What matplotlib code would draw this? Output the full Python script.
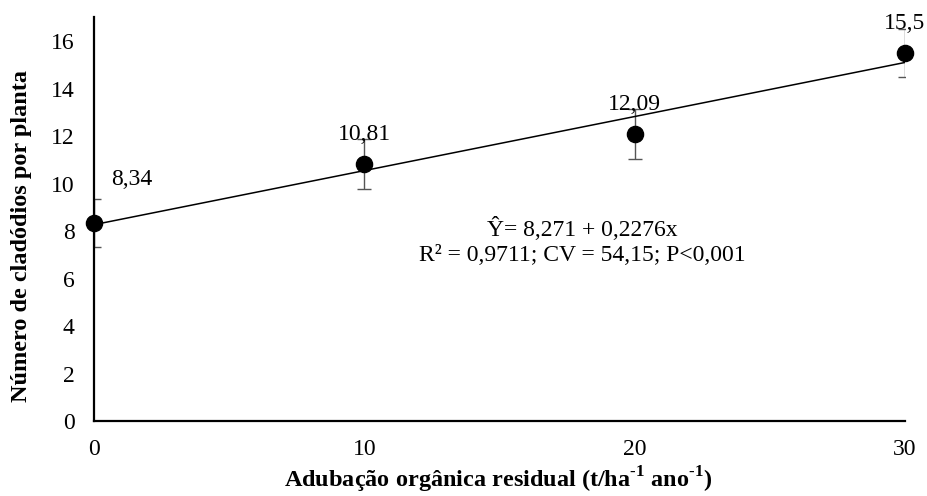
import numpy as np
import matplotlib.pyplot as plt

plt.rcParams['font.family'] = ['Liberation Serif', 'DejaVu Serif']
plt.rcParams['mathtext.fontset'] = 'custom'
plt.rcParams['mathtext.rm'] = 'Liberation Serif'
plt.rcParams['mathtext.bf'] = 'Liberation Serif:bold'

# doses and mean number of cladodes
doses = [0, 10, 20, 30]
cladodios = [8.34, 10.81, 12.09, 15.5]
erro = [1.0, 1.05, 1.05, 1.0]
rotulos = ["8,34", "10,81", "12,09", "15,5"]
xticks = [0, 10, 20, 30]
yticks = [0, 2, 4, 6, 8, 10, 12, 14, 16]

b0, b1 = 8.271, 0.2276

fig = plt.figure(figsize=(9.27, 4.96), dpi=100)
ax = fig.add_axes([0.1014, 0.151, 0.8746, 0.814])

xs = np.array([0, 30])
ax.plot(xs, b0 + b1 * xs, color="black", lw=1.1, zorder=2)
ax.errorbar(doses, cladodios, yerr=erro, fmt="none", ecolor="#555555",
            elinewidth=1, capsize=5, capthick=1, zorder=1)
ax.scatter(doses, cladodios, s=135, color="black", zorder=3, clip_on=False)

# value labels
offsets = [(12, 31), (0, 21.5), (0, 21.5), (0, 21)]
for x, y, t, (dx, dy) in zip(doses, cladodios, rotulos, offsets):
    ha = "left" if dx else "center"
    ax.annotate(t, (x, y), xytext=(dx, dy), textcoords="offset points",
                ha=ha, va="center", fontsize=17)

ax.text(0.602, 0.475, "Ŷ= 8,271 + 0,2276x", transform=ax.transAxes,
        ha="center", va="center", fontsize=17)
ax.text(0.602, 0.409, "R² = 0,9711; CV = 54,15; P<0,001", transform=ax.transAxes,
        ha="center", va="center", fontsize=17)

ax.set_xlim(0, 30)
ax.set_ylim(0, 17)
ax.set_xticks(xticks)
ax.set_yticks(yticks)
ax.tick_params(length=0, labelsize=17)
ax.tick_params(axis="y", pad=14)
ax.tick_params(axis="x", pad=13)
for s in ["top", "right"]:
    ax.spines[s].set_visible(False)
for s in ["left", "bottom"]:
    ax.spines[s].set_linewidth(1.6)

# axis titles placed in figure coordinates
fig.text(0.538, 0.018,
         "Adubação orgânica residual (t/ha$^{\\mathbf{\u20101}}$ ano$^{\\mathbf{\u20101}}$)",
         ha="center", va="baseline", fontsize=17.5, fontweight="bold")
fig.text(0.0237, 0.524, "Número de cladódios por planta", rotation=90,
         ha="center", va="center", fontsize=17.5, fontweight="bold")

fig.savefig("out.png", dpi=100)
